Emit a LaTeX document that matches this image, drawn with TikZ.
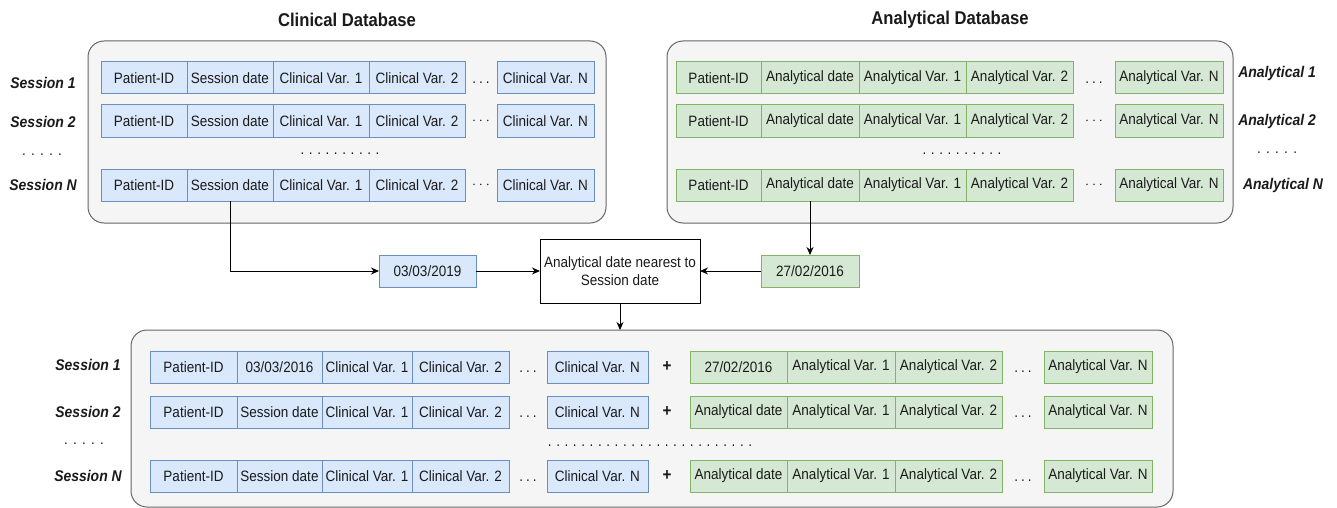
\documentclass[tikz,border=0pt]{standalone}
\usepackage{fontspec}
\setmainfont{Liberation Sans}[FakeStretch=0.9]
\usetikzlibrary{arrows.meta}

\definecolor{bluefill}{HTML}{DAE8FC}
\definecolor{bluedraw}{HTML}{6C8EBF}
\definecolor{greenfill}{HTML}{D5E8D4}
\definecolor{greendraw}{HTML}{82B366}
\definecolor{panelfill}{HTML}{F5F5F5}
\definecolor{paneldraw}{HTML}{666666}
\definecolor{ink}{HTML}{1A1A1A}

\tikzset{
  cellbase/.style={draw, line width=1pt, inner sep=0pt, outer sep=0pt,
    font=\fontsize{15}{17}\selectfont, text=ink},
  bluecell/.style={cellbase, fill=bluefill, draw=bluedraw},
  greencell/.style={cellbase, fill=greenfill, draw=greendraw},
  panel/.style={draw=paneldraw, fill=panelfill, line width=1pt,
    rounded corners=16pt, inner sep=0pt, outer sep=0pt},
  rowlabel/.style={font=\fontsize{15.5}{17}\selectfont\bfseries\itshape, text=ink},
  dbtitle/.style={font=\fontsize{18.5}{21}\selectfont\bfseries, text=ink},
  plain/.style={font=\fontsize{15}{17}\selectfont, text=ink, inner sep=0pt},
  processbox/.style={draw, line width=1pt, fill=white, align=center,
    font=\fontsize{15}{18}\selectfont, text=ink, inner sep=0pt, outer sep=0pt},
  link/.style={line width=1pt, -{Stealth[length=8pt,width=7pt]}},
}

% cell spanning x1..x2, y1..y2 (y grows downwards)
\newcommand\putcell[7]{%
  \node[#1, minimum width={#4pt-#3pt}, minimum height={#6pt-#5pt}]
    (#2) at ({(#3+#4)/2},{(#5+#6)/2}) {#7};}
% a row of dots
\newcommand\dotseq[2]{.\foreach \k in {2,...,#1}{\hspace{#2}.}}
\newcommand\lowdots{.\hspace{3pt}.\hspace{3pt}.}
\newcommand\middots{$\cdot$\hspace{3pt}$\cdot$\hspace{3pt}$\cdot$}

% clinical record: prefix, y1, y2, separator dots, dots offset
\newcommand\clinrow[5]{%
  \putcell{bluecell}{#1pid}{101}{187}{#2}{#3}{Patient-ID}
  \putcell{bluecell}{#1date}{187}{273}{#2}{#3}{Session date}
  \putcell{bluecell}{#1va}{273}{369}{#2}{#3}{Clinical Var. 1}
  \putcell{bluecell}{#1vb}{369}{465}{#2}{#3}{Clinical Var. 2}
  \node[plain] (#1dots) at (481,{(#2+#3)/2+#5}) {#4};
  \putcell{bluecell}{#1vn}{497}{594}{#2}{#3}{Clinical Var. N}}

% analytical record: prefix, y1, y2, separator dots, dots offset
\newcommand\anarow[5]{%
  \putcell{greencell}{#1pid}{676}{761}{#2}{#3}{Patient-ID}
  \putcell{greencell}{#1date}{761}{859}{#2}{#3}{Analytical date}
  \putcell{greencell}{#1va}{859}{966}{#2}{#3}{Analytical Var. 1}
  \putcell{greencell}{#1vb}{966}{1073}{#2}{#3}{Analytical Var. 2}
  \node[plain] (#1dots) at (1094,{(#2+#3)/2+#5}) {#4};
  \putcell{greencell}{#1vn}{1115}{1223}{#2}{#3}{Analytical Var. N}}

% merged record: prefix, y1, y2, session date text, analytical date text
\newcommand\mergedrow[5]{%
  \putcell{bluecell}{#1pid}{150}{237}{#2}{#3}{Patient-ID}
  \putcell{bluecell}{#1sdate}{237}{322}{#2}{#3}{#4}
  \putcell{bluecell}{#1ca}{322}{412}{#2}{#3}{Clinical Var. 1}
  \putcell{bluecell}{#1cb}{412}{509}{#2}{#3}{Clinical Var. 2}
  \node[plain] (#1cdots) at (528,{(#2+#3)/2+5}) {\lowdots};
  \putcell{bluecell}{#1cn}{547}{648}{#2}{#3}{Clinical Var. N}
  \node[plain, font=\fontsize{17}{17}\selectfont\bfseries] (#1plus) at (667,{(#2+#3)/2}) {+};
  \putcell{greencell}{#1adate}{690}{787}{#2}{#3}{#5}
  \putcell{greencell}{#1aa}{787}{895}{#2}{#3}{Analytical Var. 1}
  \putcell{greencell}{#1ab}{895}{1002}{#2}{#3}{Analytical Var. 2}
  \node[plain] (#1adots) at (1023,{(#2+#3)/2+5}) {\lowdots};
  \putcell{greencell}{#1an}{1044}{1152}{#2}{#3}{Analytical Var. N}}

\begin{document}
\begin{tikzpicture}[x=1pt,y=-1pt]
  \useasboundingbox (0,0) rectangle (1337,508);

  % ---------- clinical database ----------
  \node[dbtitle] (cltitle) at (347,20) {Clinical Database};
  \node[panel, minimum width=518pt, minimum height=182pt] (clpanel) at (347,132) {};
  \clinrow{cA}{62}{94}{\lowdots}{5}
  \clinrow{cB}{105}{137}{\middots}{0}
  \node[plain] (cgap) at (340,154) {\dotseq{10}{4.6pt}};
  \clinrow{cN}{169}{201}{\middots}{0}

  \node[rowlabel] (sA) at (43,83) {Session 1};
  \node[rowlabel] (sB) at (43,122) {Session 2};
  \node[plain] (sgap) at (42,155) {\dotseq{5}{5.3pt}};
  \node[rowlabel] (sN) at (43,185) {Session N};

  % ---------- analytical database ----------
  \node[dbtitle] (antitle) at (950,20) {Analytical Database};
  \node[panel, minimum width=566pt, minimum height=182pt] (anpanel) at (950,132) {};
  \anarow{aA}{62}{94}{\lowdots}{5}
  \anarow{aB}{105}{137}{\middots}{0}
  \node[plain] (agap) at (962,154) {\dotseq{10}{4.6pt}};
  \anarow{aN}{169}{201}{\middots}{0}

  \node[rowlabel] (lA) at (1277,73) {Analytical 1};
  \node[rowlabel] (lB) at (1277,121) {Analytical 2};
  \node[plain] (lgap) at (1277,153) {\dotseq{5}{5.3pt}};
  \node[rowlabel] (lN) at (1283,185) {Analytical N};

  % ---------- date matching ----------
  \putcell{bluecell}{sdate}{379}{476}{255}{287}{03/03/2019}
  \putcell{greencell}{adate}{761}{859}{255}{287}{27/02/2016}
  \node[processbox, minimum width=160pt, minimum height=64pt] (match) at (620,271)
    {Analytical date nearest to\\Session date};

  \draw[link] (cNdate.south) |- (sdate.west);
  \draw[link] (sdate.east) -- (match.west);
  \draw[link] (aNdate.south) -- (adate.north);
  \draw[link] (adate.west) -- (match.east);

  % ---------- merged records ----------
  \node[panel, minimum width=1042pt, minimum height=177pt] (mgpanel) at (652,418.5) {};
  \draw[link] (match.south) -- (match.south |- mgpanel.north);

  \mergedrow{mA}{351}{383}{03/03/2016}{27/02/2016}
  \mergedrow{mB}{396}{428}{Session date}{Analytical date}
  \node[plain] (mgap) at (650,446) {\dotseq{25}{4.6pt}};
  \mergedrow{mN}{460}{492}{Session date}{Analytical date}

  \node[rowlabel] (mlA) at (88,365) {Session 1};
  \node[rowlabel] (mlB) at (88,412) {Session 2};
  \node[plain] (mlgap) at (84,444) {\dotseq{5}{5.3pt}};
  \node[rowlabel] (mlN) at (88,476) {Session N};
\end{tikzpicture}
\end{document}
